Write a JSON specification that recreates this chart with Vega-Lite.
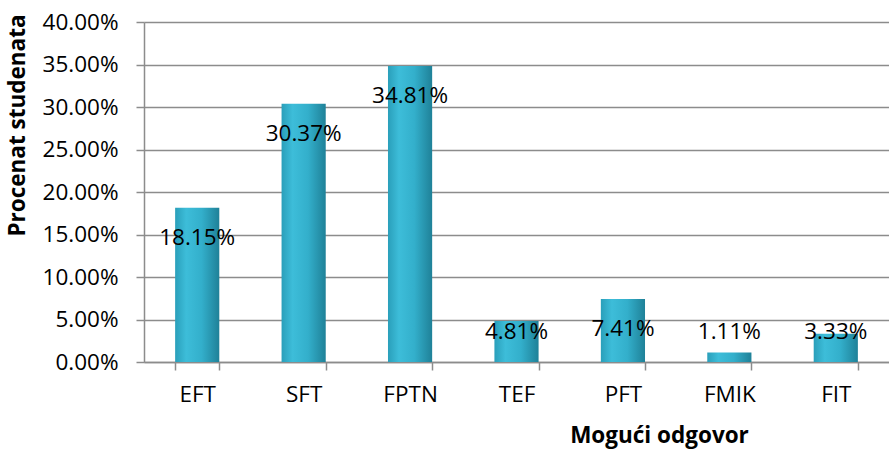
{
  "$schema": "https://vega.github.io/schema/vega-lite/v6.json",
  "width": 745,
  "height": 340,
  "autosize": {"type": "pad"},
  "padding": {"left": 6, "top": 11, "right": 0, "bottom": 12},
  "background": "white",
  "config": {
    "view": {"stroke": null},
    "font": "Open Sans",
    "axis": {"labelFont": "Open Sans", "titleFont": "Open Sans", "labelColor": "#000000", "titleColor": "#000000"}
  },
  "data": {
    "values": [
      {"odgovor": "EFT", "procenat": 0.1815},
      {"odgovor": "SFT", "procenat": 0.3037},
      {"odgovor": "FPTN", "procenat": 0.3481},
      {"odgovor": "TEF", "procenat": 0.0481},
      {"odgovor": "PFT", "procenat": 0.0741},
      {"odgovor": "FMIK", "procenat": 0.0111},
      {"odgovor": "FIT", "procenat": 0.0333}
    ]
  },
  "encoding": {
    "x": {
      "field": "odgovor",
      "type": "nominal",
      "sort": null,
      "scale": {"paddingInner": 0.585, "paddingOuter": 0.2925},
      "axis": {
        "title": "Mogući odgovor",
        "titleFontSize": 22.5,
        "titleFontWeight": "bold",
        "titleX": 515,
        "titleY": 73,
        "titleBaseline": "middle",
        "labelFontSize": 22.5,
        "labelAngle": 0,
        "labelPadding": 13,
        "tickBand": "extent",
        "tickSize": 8,
        "tickColor": "#8c8c8c",
        "tickWidth": 1.5,
        "domainColor": "#8c8c8c",
        "domainWidth": 1.5,
        "grid": false
      }
    }
  },
  "layer": [
    {
      "mark": {
        "type": "bar",
        "color": {
          "gradient": "linear",
          "x1": 0, "y1": 0, "x2": 1, "y2": 0,
          "stops": [
            {"offset": 0, "color": "#2a9fba"},
            {"offset": 0.25, "color": "#3dbdd9"},
            {"offset": 0.6, "color": "#33afcb"},
            {"offset": 1, "color": "#1f8198"}
          ]
        }
      },
      "encoding": {
        "y": {
          "field": "procenat",
          "type": "quantitative",
          "scale": {"domain": [0, 0.4], "nice": false},
          "axis": {
            "title": "Procenat studenata",
            "titleFontSize": 22.5,
            "titleFontWeight": "bold",
            "titleX": -127,
            "titleY": 103,
            "titleBaseline": "middle",
            "format": ".2%",
            "values": [0, 0.05, 0.1, 0.15, 0.2, 0.25, 0.3, 0.35, 0.4],
            "labelFontSize": 22.5,
            "labelPadding": 18,
            "tickSize": 8,
            "tickColor": "#8c8c8c",
            "tickWidth": 1.5,
            "domainColor": "#8c8c8c",
            "domainWidth": 1.5,
            "grid": true,
            "gridColor": "#8c8c8c",
            "gridWidth": 1.5
          }
        }
      }
    },
    {
      "transform": [
        {"calculate": "max(datum.procenat - 0.0353, 0.0353)", "as": "labelY"}
      ],
      "mark": {"type": "text", "fontSize": 22.5, "baseline": "middle", "color": "#000000"},
      "encoding": {
        "y": {"field": "labelY", "type": "quantitative"},
        "text": {"field": "procenat", "type": "quantitative", "format": ".2%"}
      }
    }
  ]
}
